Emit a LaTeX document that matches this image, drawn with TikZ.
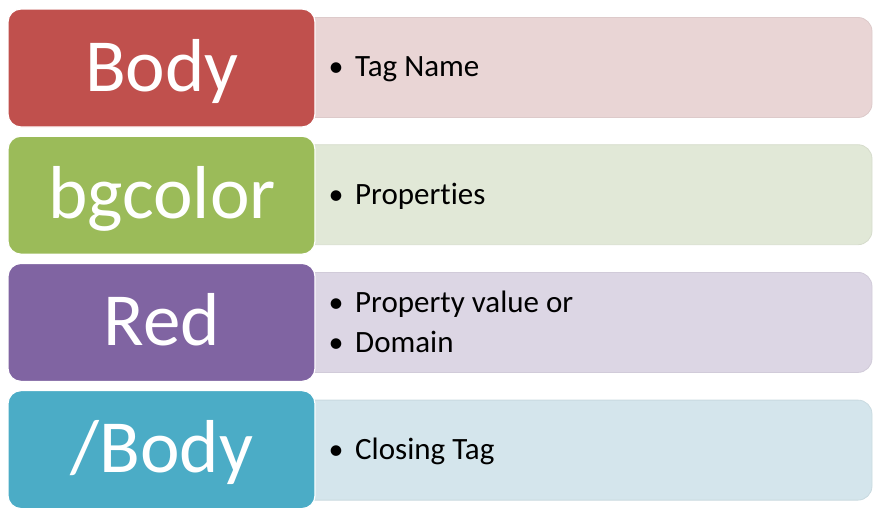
\documentclass[tikz,border=0pt]{standalone}
\usepackage{fontspec}
\setmainfont{Carlito}[RawFeature={-liga}]
\definecolor{cRed}{HTML}{C0504D}
\definecolor{cGreen}{HTML}{9BBB59}
\definecolor{cPurple}{HTML}{8064A2}
\definecolor{cAqua}{HTML}{4BACC6}
\definecolor{lRed}{HTML}{E9D5D5}
\definecolor{lGreen}{HTML}{E1E8D7}
\definecolor{lPurple}{HTML}{DCD6E4}
\definecolor{lAqua}{HTML}{D4E5EC}
\begin{document}
\begin{tikzpicture}[x=1pt,y=-1pt,
  lbox/.style={rounded corners=13pt, draw=white, line width=1.2pt, minimum width=307pt, minimum height=118pt, inner sep=0pt, outer sep=0pt},
  rbox/.style={rounded corners=14pt, line width=0.8pt, minimum width=572pt, minimum height=100pt, inner sep=0pt, outer sep=0pt},
  big/.style={text=white, font=\fontsize{75}{75}\selectfont, anchor=base, inner sep=0pt},
  item/.style={font=\fontsize{31}{36}\selectfont, anchor=base west, inner sep=0pt},
  dot/.style={font=\fontsize{30}{36}\selectfont, anchor=base, inner sep=0pt}]
\useasboundingbox (0,0) rectangle (879,514);
% right boxes (behind)
\node[rbox, fill=lRed, draw=lRed!95!black] (r1) at (586,67.5) {};
\node[rbox, fill=lGreen, draw=lGreen!95!black] (r2) at (586,194.7) {};
\node[rbox, fill=lPurple, draw=lPurple!95!black] (r3) at (586,322.4) {};
\node[rbox, fill=lAqua, draw=lAqua!95!black] (r4) at (586,450.1) {};
% left boxes
\node[lbox, fill=cRed] (l1) at (161.5,68) {};
\node[lbox, fill=cGreen] (l2) at (161.5,195.2) {};
\node[lbox, fill=cPurple] (l3) at (161.5,322.4) {};
\node[lbox, fill=cAqua] (l4) at (161.5,449.6) {};
% left labels
\node[big] (t1) at (162,91) {Body};
\node[big] (t2) at (162,218.2) {bgcolor};
\node[big] (t3) at (162,345.4) {Red};
\node[big] (t4) at (162,472.6) {/Body};
% right items
\node[dot] (d1) at (336,76.8) {•};
\node[item] (i1) at (355,76.8) {Tag Name};
\node[dot] (d2) at (336,204) {•};
\node[item] (i2) at (355,204) {Properties};
\node[dot] (d3a) at (336,312) {•};
\node[item] (i3a) at (355,312) {Property value or};
\node[dot] (d3b) at (336,352) {•};
\node[item] (i3b) at (355,352) {Domain};
\node[dot] (d4) at (336,459) {•};
\node[item] (i4) at (355,459) {Closing Tag};
\end{tikzpicture}
\end{document}
